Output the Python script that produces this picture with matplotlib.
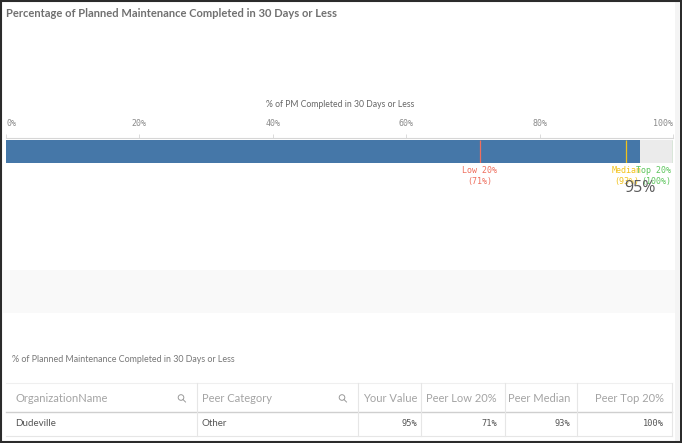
import matplotlib
matplotlib.use("Agg")
import matplotlib.pyplot as plt
from matplotlib.patches import Rectangle, Circle
import matplotlib.transforms as mtransforms

# chart data
title = "Percentage of Planned Maintenance Completed in 30 Days or Less"
axis_title = "% of PM Completed in 30 Days or Less"
tick_values = [0, 20, 40, 60, 80, 100]
tick_labels = ["0%", "20%", "40%", "60%", "80%", "100%"]
your_value = 95
peer_names = ["Low 20%", "Median", "Top 20%"]
peer_values = [71, 93, 100]
peer_colors = ["#ef6f5e", "#f2c21b", "#5cc55c"]

table_title = "% of Planned Maintenance Completed in 30 Days or Less"
table_columns = ["OrganizationName", "Peer Category", "Your Value",
                 "Peer Low 20%", "Peer Median", "Peer Top 20%"]
table_row = ["Dudeville", "Other", "95%", "71%", "93%", "100%"]

W, H = 682, 443
fig = plt.figure(figsize=(W / 100, H / 100), dpi=100)
fig.patch.set_facecolor("white")

# overlay axes in pixel units for frame / table layout
ov = fig.add_axes([0, 0, 1, 1])
ov.set_xlim(0, W)
ov.set_ylim(H, 0)
ov.axis("off")

# light band and scroll strip
ov.add_patch(Rectangle((3, 270), 672, 43, color="#f9f9f9", lw=0))
ov.add_patch(Rectangle((675, 2), 4, 439, color="#f4f4f4", lw=0))
# outer frame
ov.add_patch(Rectangle((0.8, 0.8), W - 1.6, H - 1.6, fill=False, ec="#2b2b2b", lw=1.5))

ov.text(6, 13, title, fontsize=8.0, fontweight="bold", color="#707070",
        family="Lato", va="center", ha="left")
ov.text(340, 104, axis_title, fontsize=6.2, color="#666666", family="Lato",
        va="center", ha="center")

# bullet chart axes
x0, x1 = 6, 673
bar_top, bar_bot = 138, 163
ax = fig.add_axes([x0 / W, 1 - bar_bot / H, (x1 - x0) / W, (bar_bot - bar_top) / H])
ax.set_xlim(0, 100)
ax.set_ylim(-0.5, 0.58)
ax.patch.set_alpha(0)
ax.barh(0, 100, height=1, color="#ebebeb", lw=0)
ax.barh(0, your_value, height=1, color="#4577a8", lw=0)
for v, c in zip(peer_values, peer_colors):
    ax.vlines(v, -0.5, 0.5, color=c, lw=0.9)
for s in ["left", "right", "bottom"]:
    ax.spines[s].set_visible(False)
ax.spines["top"].set_color("#d6d6d6")
ax.spines["top"].set_linewidth(0.8)
ax.set_yticks([])
ax.xaxis.tick_top()
ax.set_xticks(tick_values)
ax.set_xticklabels(tick_labels, family="DejaVu Sans Mono", fontsize=6, color="#8a8a8a")
ax.tick_params(axis="x", length=3, width=0.6, color="#d6d6d6", pad=4)
lbls = ax.get_xticklabels()
lbls[0].set_ha("left")
lbls[-1].set_ha("right")

trans = mtransforms.blended_transform_factory(ax.transData, ax.transAxes)
for name, v, c in zip(peer_names, peer_values, peer_colors):
    ha = "right" if v >= 100 else "center"
    dx = -2 if v >= 100 else 0
    ax.annotate(f"{name}\n({v}%)", xy=(v, 0), xycoords=trans,
                xytext=(dx, -3), textcoords="offset pixels",
                ha=ha, va="top", fontsize=6, color=c,
                family="DejaVu Sans Mono", linespacing=1.35,
                annotation_clip=False)
ax.annotate(f"{your_value}%", xy=(your_value, 0), xycoords=trans,
            xytext=(0, -17), textcoords="offset pixels",
            ha="center", va="top", fontsize=11.5, color="#5a5a5a",
            family="Open Sans", annotation_clip=False)

# table
ov.text(12, 360, table_title, fontsize=6.4, color="#777777", family="Lato",
        va="center", ha="left")
t_left, t_right = 6, 672
y_top, y_head, y_bot = 383, 412, 436
ov.plot([t_left, t_right], [y_top, y_top], color="#efefef", lw=0.8)
ov.plot([t_left, t_right], [y_head, y_head], color="#cfcfcf", lw=1)
ov.plot([t_left, t_right], [y_bot, y_bot], color="#e6e6e6", lw=0.8)
for xs in [197, 358, 421, 505, 577, t_right]:
    ov.plot([xs, xs], [y_top, y_bot], color="#e6e6e6", lw=0.8)

col_x = [15, 202, 417, 497, 570, 664]
col_ha = ["left", "left", "right", "right", "right", "right"]
for name, x, ha in zip(table_columns, col_x, col_ha):
    ov.text(x, 399, name, fontsize=8.0, color="#a4a4a4", family="Lato",
            va="center", ha=ha)
for i, (val, x, ha) in enumerate(zip(table_row, col_x, col_ha)):
    fam = "Lato" if i < 2 else "DejaVu Sans Mono"
    fs = 7.0 if i < 2 else 6.2
    ov.text(x, 424, val, fontsize=fs, color="#555555", family=fam,
            va="center", ha=ha)

# search icons
for cx in [181, 342]:
    ov.add_patch(Circle((cx, 397.5), 2.8, fill=False, ec="#9a9a9a", lw=0.7))
    ov.plot([cx + 2, cx + 4.5], [399.5, 402], color="#9a9a9a", lw=0.7)

fig.savefig("out.png", dpi=100)
